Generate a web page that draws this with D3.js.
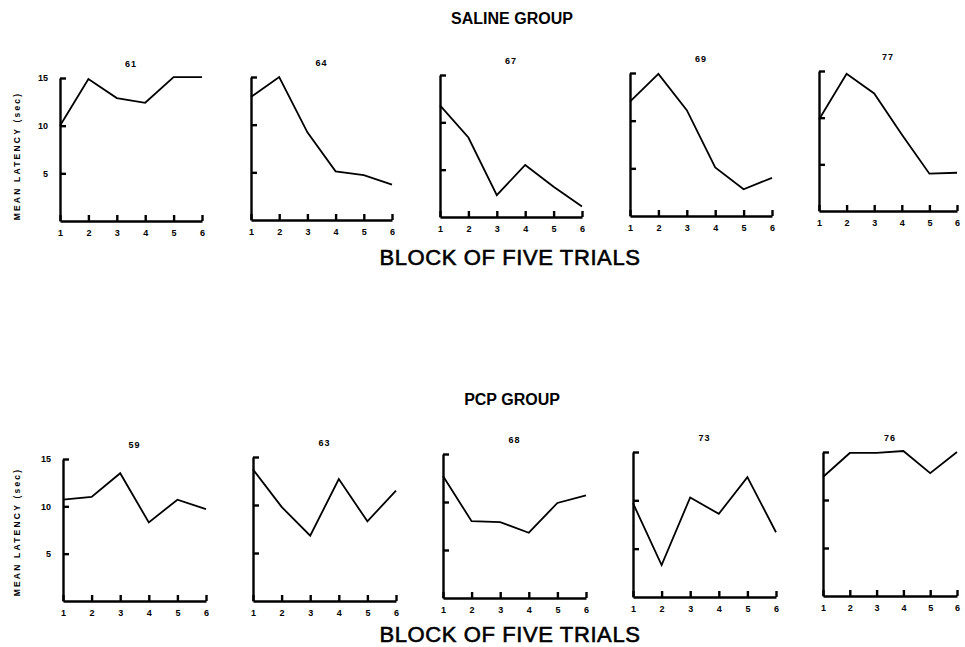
<!DOCTYPE html>
<meta charset="utf-8">
<style>
body { margin: 0; background: #fff; }
text { font-family: "Liberation Sans", Arial, sans-serif; font-weight: bold; fill: #000; }
.axis path, .axis line { stroke: #000; stroke-width: 2.4px; }
.axis text { font-size: 9px; }
.series { fill: none; stroke: #000; stroke-width: 1.8px; stroke-linejoin: miter; }
</style>
<svg width="965" height="647"></svg>
<script src="https://cdn.jsdelivr.net/npm/d3@7"></script>
<script>

// blocks of five trials
var blocks = [1, 2, 3, 4, 5, 6];
var yTicks = [5, 10, 15];

// saline group (animal ids + mean latency per block, sec)
var salineIds = ["61", "64", "67", "69", "77"];
var saline61 = [10.0, 14.9, 12.9, 12.4, 15.1, 15.1];
var saline64 = [12.9, 15.0, 9.2, 5.1, 4.7, 3.7];
var saline67 = [11.8, 8.4, 2.3, 5.5, 3.2, 1.1];
var saline69 = [12.0, 14.9, 11.1, 5.1, 2.8, 4.0];
var saline77 = [9.8, 14.7, 12.6, 8.2, 4.0, 4.1];

// pcp group
var pcpIds = ["59", "63", "68", "73", "76"];
var pcp59 = [10.7, 11.0, 13.5, 8.3, 10.7, 9.7];
var pcp63 = [13.7, 9.8, 6.8, 12.7, 8.3, 11.5];
var pcp68 = [12.7, 8.0, 7.9, 6.8, 9.9, 10.7];
var pcp73 = [9.7, 3.3, 10.3, 8.6, 12.4, 6.7];
var pcp76 = [12.4, 14.9, 14.9, 15.1, 12.8, 15.0];

var svg = d3.select("svg");

// panel frames [left, right, top(15), bottom(0)] - the scan is slightly skewed
var salineFrames = [[60, 202, 78, 221], [251, 392, 77, 220], [440, 582, 75, 217], [630, 772, 73, 216], [819, 957, 71, 211]];
var pcpFrames = [[63, 206, 459, 601], [253, 396, 457, 601], [443, 586, 454, 598], [633, 776, 452, 597], [823, 957, 452, 596]];

function drawRow(ids, series, frames, title, titleY, xTitleY, ylabY) {
  svg.append("text")
      .attr("x", 512).attr("y", titleY)
      .attr("text-anchor", "middle")
      .style("font-size", "16px")
      .text(title);

  svg.append("text")
      .attr("x", 510).attr("y", xTitleY)
      .attr("text-anchor", "middle")
      .style("font-size", "22px")
      .style("font-weight", "normal")
      .style("stroke", "#000").style("stroke-width", "0.6px")
      .style("letter-spacing", "0.6px")
      .text("BLOCK OF FIVE TRIALS");

  svg.append("text")
      .attr("transform", "translate(20," + ylabY + ") rotate(-90)")
      .attr("text-anchor", "middle")
      .style("font-size", "8.5px")
      .style("letter-spacing", "2.2px")
      .text("MEAN LATENCY (sec)");

  ids.forEach(function(id, i) {
    var f = frames[i];
    var x = d3.scaleLinear().domain([1, 6]).range([f[0], f[1]]);
    var y = d3.scaleLinear().domain([0, 15]).range([f[3], f[2]]);
    var g = svg.append("g");

    g.append("g")
        .attr("class", "axis")
        .attr("transform", "translate(0," + f[3] + ")")
        .call(d3.axisBottom(x).tickValues(blocks).tickFormat(d3.format("d"))
          .tickSizeInner(-6).tickSizeOuter(0).tickPadding(9));

    g.append("g")
        .attr("class", "axis")
        .attr("transform", "translate(" + f[0] + ",0)")
        .call(d3.axisLeft(y).tickValues(yTicks).tickSizeInner(-6).tickSizeOuter(0).tickPadding(12)
          .tickFormat(i == 0 ? d3.format("d") : ""));

    g.append("text")
        .attr("x", (f[0] + f[1]) / 2)
        .attr("y", f[2] - 11)
        .attr("text-anchor", "middle")
        .style("font-size", "9px")
        .style("letter-spacing", "1px")
        .text(id);

    var line = d3.line()
        .x(function(d, j) { return x(blocks[j]); })
        .y(function(d) { return y(d); });

    g.append("path")
        .attr("class", "series")
        .attr("d", line(series[i]));
  });
}

drawRow(salineIds, [saline61, saline64, saline67, saline69, saline77], salineFrames,
        "SALINE GROUP", 24, 265, 156);
drawRow(pcpIds, [pcp59, pcp63, pcp68, pcp73, pcp76], pcpFrames,
        "PCP GROUP", 405, 642, 532);

</script>
